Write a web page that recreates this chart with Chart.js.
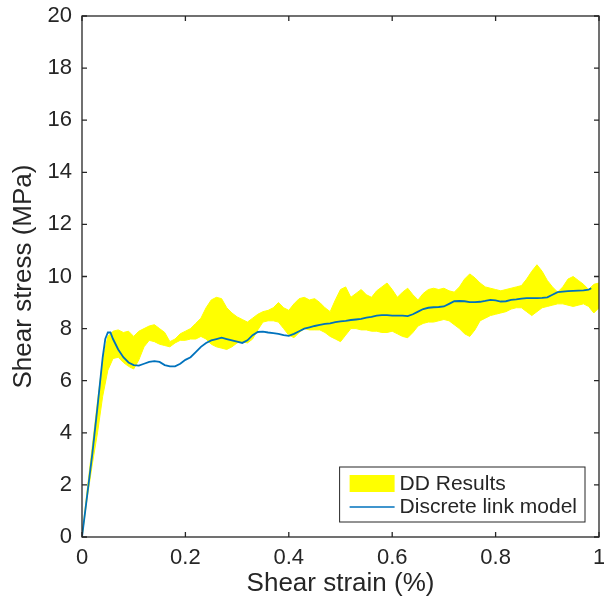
<!DOCTYPE html>
<html>
<head>
<meta charset="utf-8">
<script src="https://cdn.jsdelivr.net/npm/chart.js@4.4.1/dist/chart.umd.min.js"></script>
<style>
  html, body { margin: 0; padding: 0; background: #fff; }
  #wrap { width: 604px; height: 599px; }
</style>
</head>
<body>
<div id="wrap"><canvas id="stress-chart"></canvas></div>
<script>
// strain (%) sample points for the DD results band
const strainBand = [
  0, 0.01, 0.02, 0.03, 0.04, 0.05, 0.06, 0.07, 0.08, 0.09,
  0.10, 0.11, 0.12, 0.13, 0.14, 0.15, 0.16, 0.17, 0.18, 0.19,
  0.20, 0.21, 0.22, 0.23, 0.24, 0.25, 0.26, 0.27, 0.28, 0.29,
  0.30, 0.31, 0.32, 0.33, 0.34, 0.35, 0.36, 0.37, 0.38, 0.39,
  0.40, 0.41, 0.42, 0.43, 0.44, 0.45, 0.46, 0.47, 0.48, 0.49,
  0.50, 0.51, 0.52, 0.53, 0.54, 0.55, 0.56, 0.57, 0.58, 0.59,
  0.60, 0.61, 0.62, 0.63, 0.64, 0.65, 0.66, 0.67, 0.68, 0.69,
  0.70, 0.71, 0.72, 0.73, 0.74, 0.75, 0.76, 0.77, 0.78, 0.79,
  0.80, 0.81, 0.82, 0.83, 0.84, 0.85, 0.86, 0.87, 0.88, 0.89,
  0.90, 0.91, 0.92, 0.93, 0.94, 0.95, 0.96, 0.97, 0.98, 0.99, 1.00
];
const bandUpper = [
  0, 1.8, 3.5, 5.2, 6.8, 7.7, 7.9, 7.95, 7.85, 7.9,
  7.7, 7.9, 8.0, 8.1, 8.15, 8.0, 7.85, 7.5, 7.6, 7.8,
  7.9, 8.0, 8.2, 8.4, 8.8, 9.1, 9.2, 9.15, 8.8, 8.6,
  8.45, 8.35, 8.25, 8.4, 8.55, 8.65, 8.7, 8.8, 9.0, 8.8,
  8.7, 8.95, 9.15, 9.2, 9.1, 9.15, 9.0, 8.8, 8.65, 9.1,
  9.5, 9.6, 9.2, 9.35, 9.5, 9.3, 9.2, 9.45, 9.6, 9.75,
  9.5, 9.2, 9.4, 9.55, 9.3, 9.1, 9.35, 9.5, 9.55, 9.5,
  9.55, 9.45, 9.4, 9.6, 9.9, 10.1, 9.95, 9.75, 9.6, 9.55,
  9.5, 9.45, 9.5, 9.55, 9.6, 9.65, 9.9, 10.2, 10.45, 10.2,
  9.85, 9.6, 9.4, 9.6, 9.9, 10.0, 9.85, 9.7, 9.5, 9.7, 9.75
];
const bandLower = [
  0, 1.5, 2.8, 4.0, 5.4, 6.4, 6.85, 6.9, 6.7, 6.55,
  6.45, 6.8, 7.3, 7.55, 7.5, 7.4, 7.35, 7.3, 7.45, 7.55,
  7.55, 7.6, 7.6, 7.7, 7.6, 7.4, 7.3, 7.25, 7.2, 7.3,
  7.45, 7.5, 7.45, 7.6, 7.95, 8.25, 8.3, 8.3, 8.25, 8.0,
  7.75, 7.65, 7.85, 8.0, 7.95, 7.95, 7.95, 7.85, 7.7, 7.6,
  7.5, 7.75, 8.0, 8.0, 7.95, 7.95, 7.9, 7.9, 7.85, 7.85,
  7.9, 7.8, 7.7, 7.65, 7.85, 8.1, 8.2, 8.25, 8.25, 8.3,
  8.35, 8.3, 8.15, 8.0, 7.8, 7.7, 7.95, 8.3, 8.4, 8.5,
  8.55, 8.6, 8.65, 8.75, 8.8, 8.8, 8.65, 8.5, 8.65, 8.8,
  8.85, 8.9, 8.95, 8.95, 8.9, 8.85, 8.9, 8.95, 8.85, 8.6, 8.8
];

// discrete link model curve
const strainModel = [
  0, 0.01, 0.02, 0.03, 0.04, 0.045, 0.05, 0.055, 0.06, 0.07, 0.08, 0.09,
  0.10, 0.11, 0.12, 0.13, 0.14, 0.15, 0.16, 0.17, 0.18, 0.19,
  0.20, 0.21, 0.22, 0.23, 0.24, 0.25, 0.26, 0.27, 0.28, 0.29,
  0.30, 0.31, 0.32, 0.33, 0.34, 0.35, 0.36, 0.37, 0.38, 0.39,
  0.40, 0.41, 0.42, 0.43, 0.44, 0.45, 0.46, 0.47, 0.48, 0.49,
  0.50, 0.51, 0.52, 0.53, 0.54, 0.55, 0.56, 0.57, 0.58, 0.59,
  0.60, 0.61, 0.62, 0.63, 0.64, 0.65, 0.66, 0.67, 0.68, 0.69,
  0.70, 0.71, 0.72, 0.73, 0.74, 0.75, 0.76, 0.77, 0.78, 0.79,
  0.80, 0.81, 0.82, 0.83, 0.84, 0.85, 0.86, 0.87, 0.88, 0.89,
  0.90, 0.91, 0.92, 0.93, 0.94, 0.95, 0.96, 0.97, 0.98, 0.985
];
const stressModel = [
  0, 1.6, 3.2, 5.0, 6.9, 7.6, 7.85, 7.85, 7.6, 7.2, 6.9, 6.7,
  6.6, 6.58, 6.65, 6.72, 6.75, 6.72, 6.6, 6.55, 6.55, 6.65,
  6.8, 6.9, 7.1, 7.3, 7.45, 7.55, 7.6, 7.65, 7.6, 7.55,
  7.5, 7.45, 7.55, 7.75, 7.87, 7.88, 7.85, 7.83, 7.8, 7.75,
  7.72, 7.8, 7.9, 8.0, 8.05, 8.1, 8.14, 8.18, 8.2, 8.25,
  8.28, 8.3, 8.33, 8.35, 8.37, 8.42, 8.45, 8.5, 8.52, 8.52,
  8.5, 8.5, 8.5, 8.48, 8.55, 8.65, 8.75, 8.8, 8.82, 8.83,
  8.85, 8.95, 9.05, 9.06, 9.05, 9.02, 9.02, 9.03, 9.06, 9.1,
  9.08, 9.04, 9.05, 9.1, 9.12, 9.15, 9.17, 9.17, 9.17, 9.18,
  9.2, 9.3, 9.4, 9.42, 9.44, 9.45, 9.46, 9.47, 9.5, 9.55
];

const toPoints = (xs, ys) => xs.map((x, i) => ({ x: x, y: ys[i] }));

const AXIS_COLOR = '#262626';
const FONT = '"Liberation Sans", Arial, Helvetica, sans-serif';

// MATLAB-like box with inward ticks on all four sides
const boxAxes = {
  id: 'boxAxes',
  afterDraw(chart) {
    const { ctx, chartArea: a, scales } = chart;
    const len = 5;
    ctx.save();
    ctx.strokeStyle = AXIS_COLOR;
    ctx.lineWidth = 1.3;
    ctx.beginPath();
    scales.x.ticks.forEach(t => {
      const px = scales.x.getPixelForValue(t.value);
      ctx.moveTo(px, a.bottom); ctx.lineTo(px, a.bottom - len);
      ctx.moveTo(px, a.top); ctx.lineTo(px, a.top + len);
    });
    scales.y.ticks.forEach(t => {
      const py = scales.y.getPixelForValue(t.value);
      ctx.moveTo(a.left, py); ctx.lineTo(a.left + len, py);
      ctx.moveTo(a.right, py); ctx.lineTo(a.right - len, py);
    });
    ctx.stroke();
    ctx.strokeRect(a.left, a.top, a.right - a.left, a.bottom - a.top);
    ctx.restore();
  }
};

// legend box in the lower right corner of the plot
const insideLegend = {
  id: 'insideLegend',
  afterDraw(chart) {
    const { ctx, chartArea: a } = chart;
    const ds = chart.data.datasets;
    ctx.save();
    ctx.font = '21px ' + FONT;
    const labels = [ds[1].label, ds[0].label];
    const tw = Math.max(...labels.map(l => ctx.measureText(l).width));
    const w = 10 + 45 + 5 + tw + 8;
    const h = 55;
    const x0 = a.right - 14 - w;
    const y0 = a.bottom - 15 - h;
    ctx.fillStyle = '#fff';
    ctx.fillRect(x0, y0, w, h);
    ctx.strokeStyle = AXIS_COLOR;
    ctx.lineWidth = 1;
    ctx.strokeRect(x0, y0, w, h);
    // yellow patch
    ctx.fillStyle = ds[1].backgroundColor;
    ctx.fillRect(x0 + 10, y0 + 8, 45, 17);
    // blue line
    ctx.strokeStyle = ds[0].borderColor;
    ctx.lineWidth = 1.5;
    ctx.beginPath();
    ctx.moveTo(x0 + 10, y0 + 40);
    ctx.lineTo(x0 + 55, y0 + 40);
    ctx.stroke();
    ctx.fillStyle = AXIS_COLOR;
    ctx.textBaseline = 'middle';
    ctx.fillText(labels[0], x0 + 60, y0 + 17);
    ctx.fillText(labels[1], x0 + 60, y0 + 40);
    ctx.restore();
  }
};

const whiteBg = {
  id: 'whiteBg',
  beforeDraw(chart) {
    const { ctx, width, height } = chart;
    ctx.save();
    ctx.fillStyle = '#fff';
    ctx.fillRect(0, 0, width, height);
    ctx.restore();
  }
};

const ctx = document.getElementById('stress-chart').getContext('2d');
new Chart(ctx, {
  type: 'line',
  data: {
    datasets: [
      {
        label: 'Discrete link model',
        data: toPoints(strainModel, stressModel),
        borderColor: '#0072BD',
        borderWidth: 1.8,
        pointRadius: 0,
        fill: false,
        tension: 0,
        order: 0
      },
      {
        label: 'DD Results',
        data: toPoints(strainBand, bandUpper),
        borderColor: '#ffff00',
        backgroundColor: '#ffff00',
        borderWidth: 1,
        pointRadius: 0,
        fill: '+1',
        tension: 0,
        order: 1
      },
      {
        label: 'DD lower',
        data: toPoints(strainBand, bandLower),
        borderColor: '#ffff00',
        borderWidth: 1,
        pointRadius: 0,
        fill: false,
        tension: 0,
        order: 2
      }
    ]
  },
  options: {
    responsive: true,
    maintainAspectRatio: false,
    animation: false,
    layout: { padding: { top: 16, right: 5, left: 0, bottom: 0 } },
    plugins: {
      legend: { display: false },
      tooltip: { enabled: false }
    },
    scales: {
      x: {
        type: 'linear',
        min: 0,
        max: 1,
        ticks: {
          stepSize: 0.2,
          padding: 8,
          color: AXIS_COLOR,
          font: { family: FONT, size: 22 },
          maxRotation: 0,
          callback: (v) => String(Number(v.toFixed(2)))
        },
        grid: { display: false, drawTicks: false },
        border: { display: false },
        title: {
          display: true,
          text: 'Shear strain (%)',
          color: AXIS_COLOR,
          font: { family: FONT, size: 26 },
          padding: { top: 0, bottom: 0 }
        },
        afterFit(scale) {
          scale.height = 62;
          scale.paddingLeft = 0;
          scale.paddingRight = 0;
        }
      },
      y: {
        min: 0,
        max: 20,
        ticks: {
          stepSize: 2,
          padding: 10,
          color: AXIS_COLOR,
          font: { family: FONT, size: 22 }
        },
        grid: { display: false, drawTicks: false },
        border: { display: false },
        title: {
          display: true,
          text: 'Shear stress (MPa)',
          color: AXIS_COLOR,
          font: { family: FONT, size: 26 },
          padding: { top: 8, bottom: 0 }
        },
        afterFit(scale) {
          scale.width = 82;
          scale.paddingTop = 0;
          scale.paddingBottom = 0;
        }
      }
    }
  },
  plugins: [whiteBg, boxAxes, insideLegend]
});
</script>
</body>
</html>
